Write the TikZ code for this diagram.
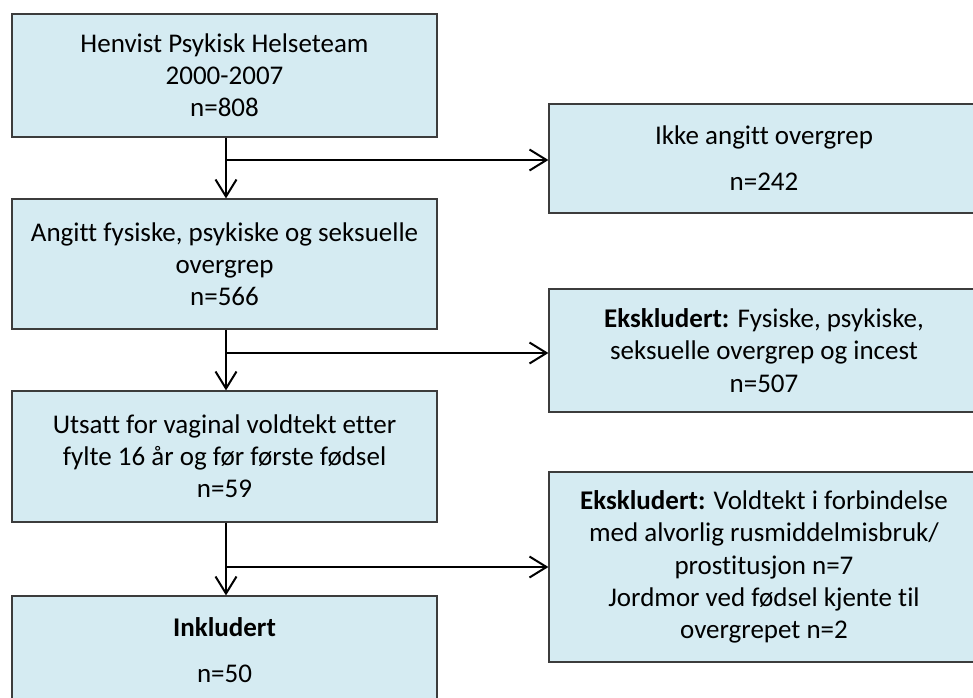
\documentclass[tikz,border=0pt]{standalone}
\usepackage{fontspec}
\setmainfont{Carlito}[Ligatures={NoCommon}]
\usetikzlibrary{arrows.meta}
\definecolor{boxfill}{RGB}{213,235,242}
\definecolor{boxline}{RGB}{60,60,60}
\tikzset{
  flowbox/.style={rectangle, draw=boxline, line width=1.2pt, fill=boxfill,
    inner sep=0pt, align=center, text=black,
    font=\fontsize{27}{32.2}\selectfont},
  flowarrow/.style={draw=black, line width=2pt,
    -{Straight Barb[length=17pt,width=21pt,line width=2pt]}},
  flowline/.style={draw=black, line width=2pt}
}
\begin{document}
\begin{tikzpicture}[x=1pt,y=-1pt]
\useasboundingbox (0,0) rectangle (973,697);
\clip (0,0) rectangle (973,697);
\fill[white] (0,0) rectangle (973,697);

% main column
\node[flowbox, minimum width=425pt, minimum height=123pt] (b1) at (224.5,75.5)
  {Henvist Psykisk Helseteam\\2000-2007\\n=808};
\node[flowbox, minimum width=425pt, minimum height=130pt] (b2) at (224.5,264)
  {Angitt fysiske, psykiske og seksuelle\\overgrep\\n=566};
\node[flowbox, minimum width=425pt, minimum height=131pt] (b3) at (224.5,456.5)
  {Utsatt for vaginal voldtekt etter\\fylte 16 år og før første fødsel\\n=59};
\node[flowbox, minimum width=425pt, minimum height=109pt] (b4) at (224.5,650.5)
  {\textbf{Inkludert}\\[14pt]n=50};

% exclusion column
\node[flowbox, minimum width=430pt, minimum height=109pt] (r1) at (764,158.5)
  {Ikke angitt overgrep\\[14pt]n=242};
\node[flowbox, minimum width=430pt, minimum height=123pt] (r2) at (764,350.5)
  {\textbf{Ekskludert:} Fysiske, psykiske,\\seksuelle overgrep og incest\\n=507};
\node[flowbox, minimum width=430pt, minimum height=190pt] (r3) at (764,567)
  {\textbf{Ekskludert:} Voldtekt i forbindelse\\med alvorlig rusmiddelmisbruk/\\prostitusjon n=7\\Jordmor ved fødsel kjente til\\overgrepet n=2};

% branch points on the main flow
\coordinate (j1) at (226,160);
\coordinate (j2) at (226,353);
\coordinate (j3) at (226,567);

% downward arrows
\draw[flowarrow] (b1.south -| j1) -- (b2.north -| j1);
\draw[flowarrow] (b2.south -| j2) -- (b3.north -| j2);
\draw[flowarrow] (b3.south -| j3) -- (b4.north -| j3);

% side arrows to the exclusion boxes
\draw[flowarrow] (j1) -- (j1 -| r1.west);
\draw[flowarrow] (j2) -- (j2 -| r2.west);
\draw[flowarrow] (j3) -- (j3 -| r3.west);
\end{tikzpicture}
\end{document}
